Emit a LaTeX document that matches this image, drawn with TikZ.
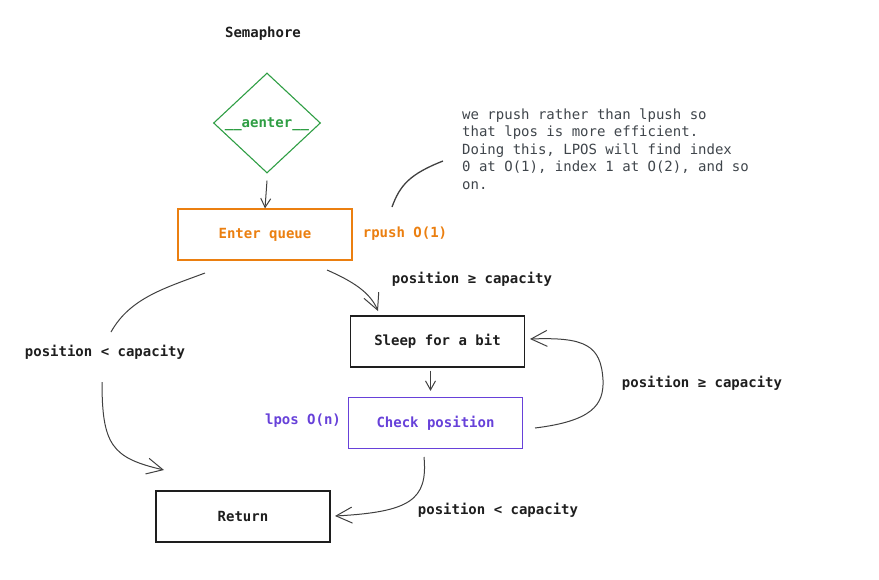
\documentclass[tikz,border=0pt]{standalone}
\usepackage{fontspec}
\setmainfont{DejaVu Sans Mono}
\setmonofont{DejaVu Sans Mono}
\usetikzlibrary{shapes.geometric,arrows.meta}
\definecolor{ink}{HTML}{1E1E1E}
\definecolor{orng}{HTML}{EB7F10}
\definecolor{grn}{HTML}{2F9E44}
\definecolor{purp}{HTML}{6741D9}
\definecolor{notegray}{HTML}{3F454B}
\tikzset{
  every node/.style={font=\fontsize{14}{17.5}\selectfont},
  box/.style={draw, line width=1.2pt, minimum width=174pt, minimum height=51pt, inner sep=0pt, font=\fontsize{14}{17.5}\selectfont\bfseries},
  lbl/.style={text=ink, font=\fontsize{14}{17.5}\selectfont\bfseries},
  conn/.style={draw=ink!85, line width=1pt},
  bigarr/.style={conn, -{Straight Barb[length=16pt,width=16pt,line width=1pt]}},
  smallarr/.style={conn, -{Straight Barb[length=9pt,width=10pt,line width=1pt]}}
}
\begin{document}
\begin{tikzpicture}[x=1pt,y=-1pt]
\useasboundingbox (0,0) rectangle (879,579);
% title
\node[lbl] (title) at (263,33.5) {Semaphore};
% diamond
\node[diamond, draw=grn, line width=1.1pt, minimum width=107pt, minimum height=100pt, inner sep=0pt] (dia) at (267,123) {};
\node[text=grn, font=\fontsize{14}{17.5}\selectfont\bfseries] (diatext) at ([yshift=-1.5pt]dia.center) {\_\_aenter\_\_};
% boxes
\node[box, draw=orng, text=orng] (eq) at (265,234.5) {\raisebox{-5pt}{Enter queue}};
\node[box, draw=ink, text=ink] (sleep) at (437.5,341.5) {\raisebox{-4pt}{Sleep for a bit}};
\node[box, draw=purp, text=purp] (check) at (435.5,423) {\raisebox{-4pt}{Check position}};
\node[box, draw=ink, text=ink] (ret) at (243,516.5) {\raisebox{-4pt}{Return}};
% side labels
\node[text=orng, font=\fontsize{14}{17.5}\selectfont\bfseries] (rpush) at (405,233.5) {rpush O(1)};
\node[text=purp, font=\fontsize{14}{17.5}\selectfont\bfseries] (lpos) at (303,420.5) {lpos O(n)};
\node[lbl] (geA) at (472,279.5) {position ≥ capacity};
\node[lbl] (ltA) at (105,352.5) {position < capacity};
\node[lbl] (geB) at (702,383.5) {position ≥ capacity};
\node[lbl] (ltB) at (498,510.5) {position < capacity};
% note
\node[text=notegray, anchor=north west, align=left, inner sep=0pt] (note) at (462,108.5) {we rpush rather than lpush so\\that lpos is more efficient.\\Doing this, LPOS will find index\\0 at O(1), index 1 at O(2), and so\\on.};
% connectors
\draw[smallarr] ([yshift=-7pt]dia.south) -- (eq.north);
\draw[smallarr] ([xshift=-7pt,yshift=-3pt]sleep.south) -- ([xshift=-5pt,yshift=6pt]check.north);
\coordinate (noteend) at (443,161);
\draw[conn, line width=1.3pt] (392,207) .. controls (400,185) and (410,174) .. (noteend);
\draw[bigarr] (327,270) .. controls (352,281) and (370,292) .. (378,311);
\draw[conn] (205,273) .. controls (165,288) and (130,298) .. (111,332);
\draw[bigarr] (102,382) .. controls (102,445) and (112,458) .. (164,470);
\draw[bigarr] (424,457) .. controls (428,500) and (410,512) .. (335,516);
\draw[bigarr] (535,428) .. controls (592,421) and (604,405) .. (603,380) .. controls (601,345) and (585,337) .. (530,339);
\end{tikzpicture}
\end{document}
